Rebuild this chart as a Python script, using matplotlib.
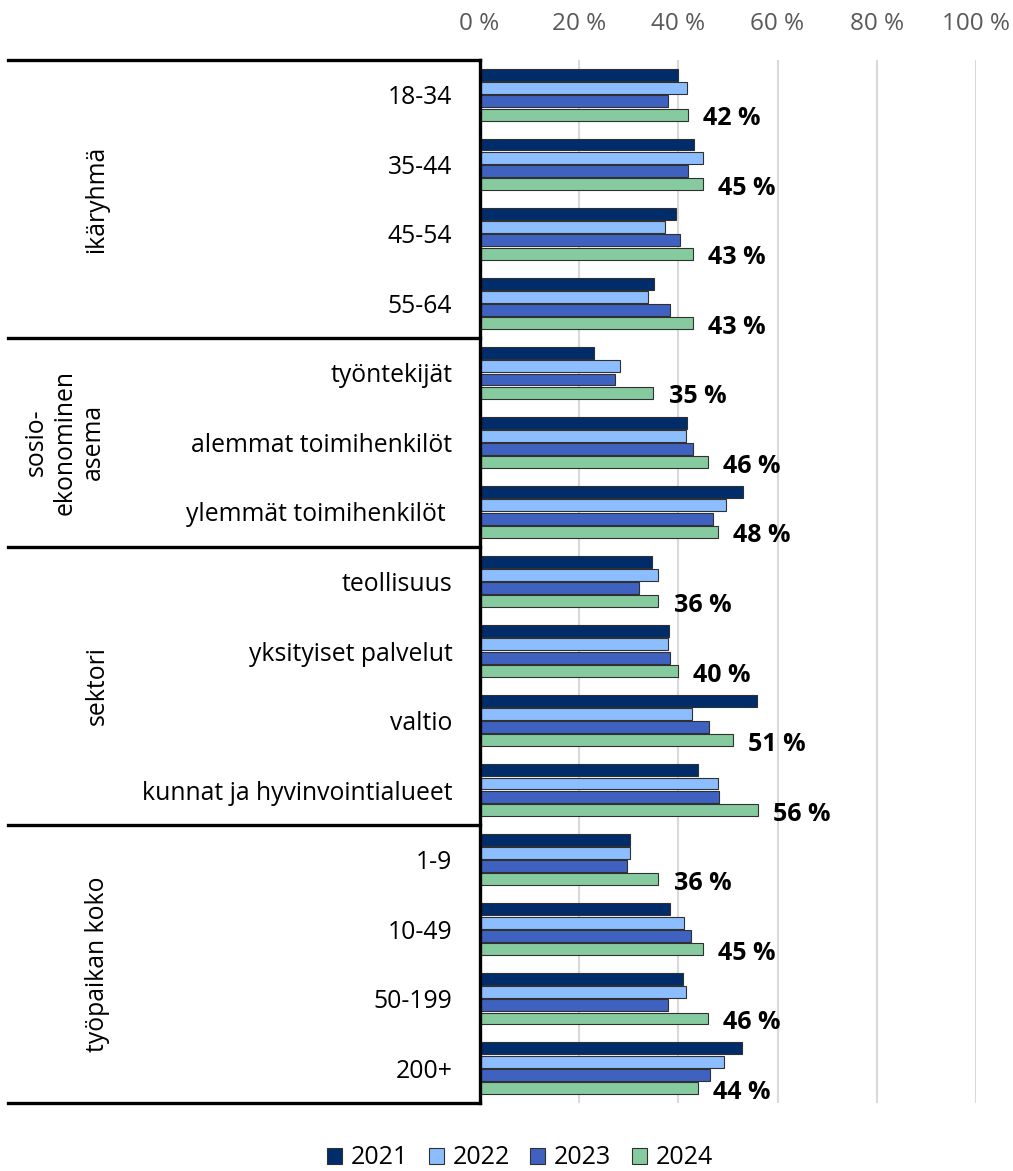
import matplotlib.pyplot as plt
import matplotlib.transforms as mtransforms
from matplotlib.patches import Patch

plt.rcParams['font.family'] = ['Open Sans', 'DejaVu Sans']

categories = ['18-34', '35-44', '45-54', '55-64',
              'työntekijät', 'alemmat toimihenkilöt', 'ylemmät toimihenkilöt ',
              'teollisuus', 'yksityiset palvelut', 'valtio', 'kunnat ja hyvinvointialueet',
              '1-9', '10-49', '50-199', '200+']
years = ['2021', '2022', '2023', '2024']

v2021 = [40.0, 43.1, 39.6, 35.1, 23.1, 41.8, 53.1, 34.8, 38.1, 55.9, 43.9, 30.3, 38.3, 40.9, 52.9]
v2022 = [41.8, 44.9, 37.3, 34.0, 28.3, 41.6, 49.6, 36.0, 38.0, 42.8, 48.1, 30.2, 41.2, 41.5, 49.3]
v2023 = [37.9, 42.0, 40.3, 38.3, 27.2, 43.0, 47.0, 32.1, 38.4, 46.3, 48.2, 29.7, 42.5, 37.9, 46.5]
v2024 = [42, 45, 43, 43, 35, 46, 48, 36, 40, 51, 56, 36, 45, 46, 44]

groups = ['ikäryhmä', 'sosio-\nekonominen\nasema', 'sektori', 'työpaikan koko']
group_sizes = [4, 3, 4, 4]

colors = ['#002d6a', '#8cbeff', '#3f62c0', '#86cba0']
series = [v2021, v2022, v2023, v2024]

fig = plt.figure(figsize=(10.13, 11.71), dpi=100)
W, H = 1013, 1171
left, right, top, bottom = 479.5, 976.2, 60, 1103
ax = fig.add_axes([left / W, 1 - bottom / H, (right - left) / W, (bottom - top) / H])

ypos = list(range(len(categories)))
offsets = [-0.285, -0.095, 0.095, 0.285]
for vals, col, off, yr in zip(series, colors, offsets, years):
    ax.barh([y + off for y in ypos], vals, height=0.172, color=col,
            edgecolor='#303030', linewidth=0.8, label=yr, zorder=3)

# value labels for the latest year
for y, v in zip(ypos, v2024):
    ax.annotate(f'{v:.0f} %', (v, y + offsets[3]), xytext=(11, -3),
                textcoords='offset points', ha='left', va='center',
                fontsize=18, fontweight='bold', color='black')

ax.set_xlim(0, 100)
ax.set_ylim(len(categories) - 0.5, -0.5)
ax.set_xticks(range(0, 101, 20))
ax.set_xticklabels([f'{t} %' for t in range(0, 101, 20)])
ax.xaxis.tick_top()
ax.tick_params(axis='x', length=0, pad=17, labelsize=17.5, labelcolor='#595959')
ax.set_yticks(ypos)
ax.set_yticklabels(categories)
ax.tick_params(axis='y', length=0, pad=19.5, labelsize=17.8)
ax.grid(axis='x', color='#d9d9d9', linewidth=1.5, zorder=0)
ax.set_axisbelow(True)
for s in ['top', 'right', 'bottom']:
    ax.spines[s].set_visible(False)
ax.spines['left'].set_linewidth(2.4)
ax.spines['left'].set_color('black')
ax.spines['left'].set_zorder(5)

# group separators and group titles on the left
trans = mtransforms.blended_transform_factory(ax.transAxes, ax.transData)
x0 = (8 - left) / (right - left)
edge = -0.5
ax.plot([x0, 0], [edge, edge], color='black', lw=2.4, transform=trans, clip_on=False, zorder=5)
title_x = [-0.770, -0.835, -0.770, -0.770]
for name, n, tx in zip(groups, group_sizes, title_x):
    start = edge
    edge = edge + n
    ax.plot([x0, 0], [edge, edge], color='black', lw=2.4, transform=trans, clip_on=False, zorder=5)
    ax.text(tx, (start + edge) / 2, name, rotation=90, ha='center', va='center',
            fontsize=17.8, linespacing=1.2, transform=trans, multialignment='center')

handles = [Patch(facecolor=c, edgecolor='#303030', linewidth=0.8, label=y)
           for c, y in zip(colors, years)]
fig.legend(handles=handles, loc='center', bbox_to_anchor=(520 / W, 1 - 1158 / H),
           ncol=4, frameon=False, fontsize=18, handlelength=0.6, handleheight=0.6,
           handletextpad=0.35, columnspacing=0.82)

fig.savefig('out.png', dpi=100)
